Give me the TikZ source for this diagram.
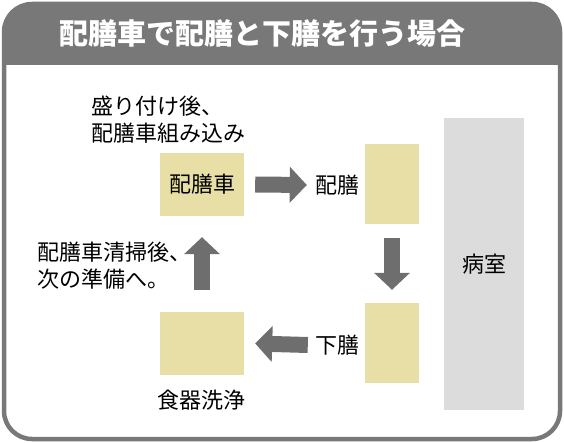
\documentclass[tikz,border=0pt]{standalone}
\usepackage{fontspec}
\newfontfamily\jp{Noto Sans CJK JP}
\usetikzlibrary{arrows.meta}
\definecolor{frame}{HTML}{787878}
\definecolor{boxy}{HTML}{E8DFA6}
\definecolor{room}{HTML}{DCDCDC}
\definecolor{arr}{HTML}{6E6E6E}
\begin{document}
\begin{tikzpicture}[x=1pt,y=-1pt,
  txt/.style={inner sep=0pt, font=\jp\fontsize{22}{27}\selectfont, text=black},
  ybox/.style={fill=boxy, inner sep=0pt, font=\jp\fontsize{22}{27}\selectfont},
  gbox/.style={fill=room, inner sep=0pt, font=\jp\fontsize{22}{27}\selectfont},
  blk/.style={draw=arr, line width=16pt, -{Triangle[length=17pt,width=35pt]}}]
\useasboundingbox (0,0) rectangle (564,443);
\begin{scope}
  \clip[rounded corners=28pt] (4,4) rectangle (560,439);
  \fill[frame] (0,0) rectangle (564,65);
\end{scope}
\draw[frame, line width=4.5pt, rounded corners=28pt] (4,4) rectangle (560,439);
\node[text=white, inner sep=0pt, font=\jp\bfseries\fontsize{29}{33}\selectfont] (title) at (262,34) {配膳車で配膳と下膳を行う場合};

\node[ybox, minimum width=84pt, minimum height=63pt] (car) at (202,184.5) {配膳車};
\node[ybox, minimum width=54pt, minimum height=80pt] (hbox) at (392,184) {};
\node[ybox, minimum width=54pt, minimum height=80pt] (gbox) at (392,343) {};
\node[ybox, minimum width=84pt, minimum height=63pt] (wash) at (202,343.5) {};
\node[gbox, minimum width=80pt, minimum height=292pt] (room) at (484,264) {病室};

\node[txt] (lh) at (337,185) {配膳};
\node[txt] (lg) at (337,345) {下膳};
\node[txt] (lw) at (201.5,400) {食器洗浄};
\node[txt, align=left, anchor=west] (l1) at (91,120) {盛り付け後、\\配膳車組み込み};
\node[txt, align=left, anchor=west] (l2) at (37,266) {配膳車清掃後、\\次の準備へ。};

\draw[blk] ([xshift=11pt]car.east) -- ([xshift=-8pt]lh.west);
\draw[blk] ([yshift=-14pt]hbox.south) -- ([yshift=13pt]gbox.north);
\draw[blk] ([xshift=-7pt]lg.west) -- ([xshift=11pt]wash.east);
\draw[blk] ([yshift=22pt]wash.north) -- ([yshift=-21pt]car.south);
\end{tikzpicture}
\end{document}
